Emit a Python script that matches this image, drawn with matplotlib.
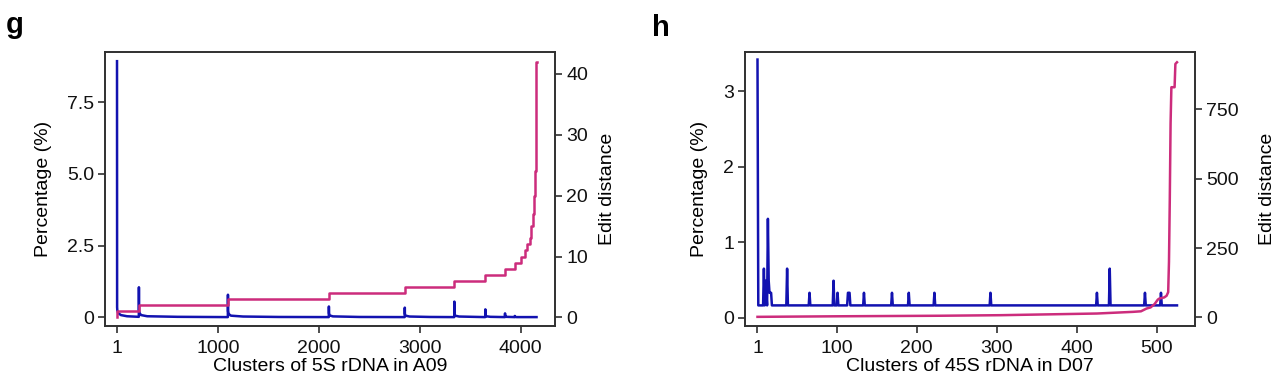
import numpy as np
import matplotlib
matplotlib.use("Agg")
import matplotlib.pyplot as plt

plt.rcParams['font.family'] = ['Liberation Sans', 'DejaVu Sans']

# ---------------- Panel g data (5S rDNA in A09) ----------------
g_xticks = [1, 1000, 2000, 3000, 4000]
g_yticks = [0, 2.5, 5.0, 7.5]
g_yticklabels = ["0", "2.5", "5.0", "7.5"]
g_y2ticks = [0, 10, 20, 30, 40]

# percentage line (vertices)
g_pct_x = [1, 2, 4, 12, 40, 100, 217,
           218, 219, 224, 240, 300, 600, 1099,
           1100, 1101, 1106, 1130, 1250, 1600, 2099,
           2100, 2101, 2106, 2140, 2400, 2851,
           2852, 2853, 2858, 2900, 3100, 3342,
           3343, 3344, 3350, 3390, 3649,
           3650, 3651, 3657, 3700, 3844,
           3845, 3846, 3852, 3941,
           3942, 3943, 3960, 4157]
g_pct_y = [8.93, 0.35, 0.25, 0.15, 0.08, 0.04, 0.02,
           1.05, 0.25, 0.15, 0.08, 0.04, 0.02, 0.01,
           0.79, 0.22, 0.12, 0.06, 0.03, 0.015, 0.01,
           0.38, 0.15, 0.07, 0.035, 0.015, 0.01,
           0.34, 0.13, 0.06, 0.03, 0.015, 0.01,
           0.55, 0.15, 0.06, 0.03, 0.01,
           0.28, 0.10, 0.04, 0.02, 0.01,
           0.14, 0.05, 0.02, 0.01,
           0.05, 0.02, 0.01, 0.01]

# edit distance (step changes)
g_ed_x = [1, 2, 218, 1100, 2100, 2852, 3343, 3650, 3845, 3942, 4008,
          4040, 4067, 4090, 4106, 4123, 4133, 4143, 4150, 4156, 4158]
g_ed_y = [0, 1, 2, 3, 4, 5, 6, 7, 8, 9, 10,
          11, 12, 13, 15, 17, 20, 24, 29, 42, 42]

# ---------------- Panel h data (45S rDNA in D07) ----------------
h_xticks = [1, 100, 200, 300, 400, 500]
h_yticks = [0, 1, 2, 3]
h_y2ticks = [0, 250, 500, 750]

h_n_clusters = 525
h_base_pct = 0.163
h_spike_x = [1, 9, 11, 12, 14, 15, 16, 17, 18, 38, 66, 96, 101,
             114, 115, 116, 134, 169, 190, 222, 292, 425, 441, 485, 505]
h_spike_y = [3.42, 0.65, 0.49, 0.33, 1.31, 0.49, 0.33, 0.33, 0.33, 0.65, 0.33, 0.49, 0.33,
             0.33, 0.33, 0.33, 0.33, 0.33, 0.33, 0.33, 0.33, 0.33, 0.65, 0.33, 0.33]

h_ed_x = [1, 100, 230, 305, 425, 470, 480, 487, 492, 497, 501, 503,
          509, 512, 514, 515, 516, 517, 518, 522, 523, 525]
h_ed_y = [2, 4, 6, 8, 14, 20, 22, 32, 36, 48, 64, 68,
          72, 78, 91, 200, 423, 700, 830, 830, 914, 920]

BLUE = "#1212B0"
MAG = "#CC2C7C"
SPINE = "#303030"
FS = 14
LW = 1.8

W, H = 1280, 377
fig = plt.figure(figsize=(W / 100, H / 100), dpi=100)


def box(l, t, r, b):
    return [l / W, 1 - b / H, (r - l) / W, (b - t) / H]


def style(ax):
    for s in ax.spines.values():
        s.set_color(SPINE)
        s.set_linewidth(1.2)
    ax.tick_params(direction='out', length=5, width=1.2, color=SPINE,
                   labelsize=FS, pad=3, labelcolor="#111111")
    ax.tick_params(axis='x', pad=5)


def px_to_ax_x(px, l=105, r=555):
    return (px - l) / (r - l)


# ---- panel g ----
axg = fig.add_axes(box(105, 52, 555, 326))
axg.plot(g_pct_x, g_pct_y, color=BLUE, lw=LW)
axg.set_xlim(-118, 4340)
axg.set_ylim(-0.30, 9.25)
axg.set_xticks(g_xticks)
axg.set_yticks(g_yticks)
axg.set_yticklabels(g_yticklabels)
axg.set_xlabel("Clusters of 5S rDNA in A09", fontsize=FS)
axg.set_ylabel("Percentage (%)", fontsize=FS)
axg.xaxis.set_label_coords(0.5, (326 - 358) / 274)
axg.yaxis.set_label_coords(px_to_ax_x(52.5), 0.5)
style(axg)
axg2 = axg.twinx()
axg2.step(g_ed_x, g_ed_y, where='post', color=MAG, lw=LW)
axg2.set_ylim(-1.4, 43.6)
axg2.set_yticks(g_y2ticks)
axg2.set_ylabel("Edit distance", fontsize=FS)
axg2.yaxis.set_label_coords(px_to_ax_x(599.5), 0.5)
style(axg2)

# ---- panel h ----
h_x = np.arange(1, h_n_clusters + 1)
h_pct = np.full(h_n_clusters, h_base_pct)
h_pct[np.array(h_spike_x) - 1] = h_spike_y

axh = fig.add_axes(box(745, 52, 1195, 326))
axh.plot(h_x, h_pct, color=BLUE, lw=LW)
axh.set_xlim(-14.6, 547.5)
axh.set_ylim(-0.11, 3.52)
axh.set_xticks(h_xticks)
axh.set_yticks(h_yticks)
axh.set_xlabel("Clusters of 45S rDNA in D07", fontsize=FS)
axh.set_ylabel("Percentage (%)", fontsize=FS)
axh.xaxis.set_label_coords(0.5, (326 - 358) / 274)
axh.yaxis.set_label_coords(px_to_ax_x(708.5, 745, 1195), 0.5)
style(axh)
axh2 = axh.twinx()
axh2.plot(h_ed_x, h_ed_y, color=MAG, lw=LW)
axh2.set_ylim(-31, 957)
axh2.set_yticks(h_y2ticks)
axh2.set_ylabel("Edit distance", fontsize=FS)
axh2.yaxis.set_label_coords(px_to_ax_x(1258.5, 745, 1195), 0.5)
style(axh2)

fig.text(6 / W, 1 - 25 / H, "g", fontsize=21, fontweight='bold', va='center', ha='left')
fig.text(652 / W, 1 - 28 / H, "h", fontsize=21, fontweight='bold', va='center', ha='left')

fig.savefig("out.png", dpi=100, facecolor="white")
